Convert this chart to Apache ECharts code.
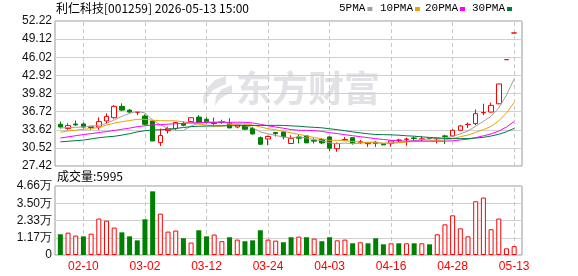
<!DOCTYPE html>
<html lang="zh-CN">
<head>
<meta charset="UTF-8">
<title>利仁科技 日K</title>
<script src="https://cdn.jsdelivr.net/npm/echarts@6/dist/echarts.min.js"></script>
<style>
  html, body { margin: 0; padding: 0; background: #fff; }
  #main { width: 578px; height: 276px; }
</style>
</head>
<body>
<div id="main"></div>
<script>
// 交易日
var dates = ['02-05','02-06','02-09','02-10','02-11','02-12','02-13','02-24','02-25','02-26',
             '02-27','03-02','03-03','03-04','03-05','03-06','03-09','03-10','03-11','03-12',
             '03-13','03-16','03-17','03-18','03-19','03-20','03-23','03-24','03-25','03-26',
             '03-27','03-30','03-31','04-01','04-02','04-03','04-07','04-08','04-09','04-10',
             '04-13','04-14','04-15','04-16','04-17','04-20','04-21','04-22','04-23','04-24',
             '04-27','04-28','04-29','04-30','05-06','05-07','05-08','05-11','05-12','05-13'];

// 开 收 低 高
var open = [34.56, 33.82, 34.60, 34.61, 34.22, 34.09, 35.12, 35.68, 37.62, 36.98,
            36.59, 35.96, 35.12, 31.43, 33.48, 33.82, 34.68, 35.01, 35.78, 35.41,
            34.85, 35.01, 34.78, 34.09, 34.39, 33.83, 32.27, 32.04, 33.16, 33.24,
            31.27, 32.37, 32.57, 31.84, 31.97, 32.39, 30.39, 31.87, 32.27, 31.48,
            31.23, 31.48, 31.23, 31.26, 31.77, 31.97, 32.22, 31.97, 32.17, 32.07,
            32.57, 32.56, 33.53, 34.50, 34.68, 36.52, 36.65, 38.06, 45.61, 50.17];
var close = [34.09, 34.33, 34.45, 34.09, 34.00, 35.01, 35.90, 37.62, 36.98, 36.64,
             36.64, 34.56, 31.70, 32.63, 33.82, 34.85, 34.39, 35.68, 34.89, 34.89,
             34.68, 34.85, 33.93, 34.44, 33.71, 32.91, 31.14, 32.47, 32.97, 32.39,
             32.11, 32.17, 31.37, 31.67, 31.37, 30.46, 31.26, 31.97, 31.26, 31.58,
             31.38, 31.26, 31.03, 31.70, 31.87, 32.02, 32.12, 32.07, 32.12, 32.17,
             32.47, 33.53, 34.27, 34.56, 36.37, 36.57, 37.79, 41.46, 45.61, 50.17];
var low = [33.82, 33.60, 34.30, 33.82, 33.60, 33.60, 34.68, 35.51, 36.81, 36.42,
           36.12, 34.35, 31.70, 30.85, 32.97, 33.60, 34.20, 34.94, 34.68, 34.68,
           34.45, 34.65, 33.93, 33.86, 33.60, 32.77, 31.03, 30.96, 32.47, 31.97,
           31.27, 31.27, 31.37, 31.27, 31.18, 30.00, 29.85, 31.70, 31.08, 31.18,
           30.69, 30.69, 31.03, 30.74, 31.48, 30.88, 31.68, 31.58, 31.97, 31.28,
           31.18, 32.43, 33.46, 33.93, 34.39, 36.13, 36.54, 38.00, 45.61, 50.17];
var high = [35.01, 34.73, 35.20, 34.85, 34.25, 35.75, 36.42, 37.84, 38.13, 37.16,
            36.66, 36.25, 35.23, 33.82, 34.15, 34.90, 35.04, 35.72, 36.12, 35.74,
            35.70, 35.34, 35.59, 34.45, 34.55, 34.15, 32.47, 32.63, 33.19, 33.36,
            32.67, 32.82, 32.62, 32.17, 32.17, 32.47, 31.43, 32.37, 32.27, 31.87,
            31.48, 31.68, 31.23, 31.87, 32.07, 32.27, 32.47, 32.57, 32.22, 32.27,
            32.77, 33.71, 34.45, 34.85, 37.10, 38.07, 38.25, 41.46, 45.61, 50.17];

// 均线
var ma5 = [33.95, 33.98, 34.05, 34.10, 34.19, 34.38, 34.69, 35.32, 35.90, 36.43,
           36.76, 36.49, 35.30, 34.43, 33.87, 33.51, 33.48, 34.27, 34.73, 34.94,
           34.91, 35.00, 34.65, 34.56, 34.32, 33.97, 33.23, 32.93, 32.64, 32.38,
           32.22, 32.42, 32.20, 31.94, 31.74, 31.41, 31.23, 31.35, 31.26, 31.31,
           31.49, 31.49, 31.30, 31.39, 31.45, 31.58, 31.75, 31.96, 32.04, 32.10,
           32.19, 32.47, 32.91, 33.40, 34.24, 35.06, 35.91, 37.35, 39.56, 42.32];
var ma10 = [33.20, 33.40, 33.55, 33.70, 33.80, 34.05, 34.40, 34.75, 35.00, 35.20,
            35.40, 35.40, 35.25, 35.17, 35.15, 35.13, 34.98, 34.79, 34.58, 34.41,
            34.21, 34.24, 34.46, 34.64, 34.63, 34.44, 34.11, 33.79, 33.60, 33.35,
            33.09, 32.82, 32.57, 32.29, 32.06, 31.81, 31.82, 31.77, 31.60, 31.52,
            31.45, 31.36, 31.32, 31.33, 31.38, 31.53, 31.62, 31.63, 31.72, 31.77,
            31.88, 32.11, 32.43, 32.72, 33.17, 33.63, 34.19, 35.13, 36.48, 38.28];
var ma20 = [32.20, 32.40, 32.60, 32.80, 32.95, 33.15, 33.30, 33.50, 33.70, 33.90,
            34.15, 34.30, 34.45, 34.50, 34.58, 34.65, 34.72, 34.80, 34.84, 34.86,
            34.89, 34.91, 34.89, 34.91, 34.89, 34.79, 34.55, 34.29, 34.09, 33.88,
            33.65, 33.53, 33.51, 33.47, 33.34, 33.12, 32.97, 32.78, 32.60, 32.44,
            32.27, 32.09, 31.95, 31.81, 31.72, 31.67, 31.72, 31.70, 31.66, 31.65,
            31.67, 31.73, 31.88, 32.02, 32.27, 32.58, 32.91, 33.38, 34.10, 35.03];
var ma30 = [31.55, 31.65, 31.75, 31.85, 32.05, 32.25, 32.40, 32.50, 32.70, 32.95,
            33.25, 33.45, 33.58, 33.62, 33.70, 33.85, 34.00, 34.15, 34.22, 34.25,
            34.28, 34.30, 34.30, 34.32, 34.33, 34.35, 34.36, 34.37, 34.37, 34.36,
            34.29, 34.22, 34.11, 34.03, 33.95, 33.79, 33.64, 33.45, 33.26, 33.09,
            32.92, 32.81, 32.78, 32.75, 32.69, 32.59, 32.52, 32.40, 32.31, 32.22,
            32.14, 32.10, 32.11, 32.11, 32.20, 32.32, 32.55, 32.84, 33.27, 33.86];

// 成交量(万手), 1 = 红, 0 = 绿
var vol = [1.40, 1.51, 1.31, 1.26, 1.44, 2.46, 2.32, 1.85, 1.53, 1.26,
           0.99, 2.41, 4.30, 2.79, 1.58, 1.65, 1.13, 0.84, 1.67, 1.26,
           1.38, 0.93, 1.20, 1.04, 0.93, 0.99, 1.67, 1.04, 0.97, 0.86,
           1.20, 1.24, 1.20, 1.11, 0.93, 1.20, 0.99, 1.04, 0.79, 0.86,
           0.79, 1.13, 0.72, 0.79, 0.79, 0.79, 0.79, 0.79, 0.72, 1.40,
           2.07, 2.68, 1.80, 1.26, 3.63, 3.88, 1.74, 2.46, 0.45, 0.5995];
var volUp = [0,1,1,0,1,1,1,1,0,0, 0,0,0,1,1,1,0,1,0,0,
             1,1,0,1,0,0,0,1,1,0, 0,1,0,1,0,0,1,1,0,1,
             0,0,0,1,0,1,0,1,0,1, 1,1,1,1,1,1,1,1,1,1];

// 刻度
var priceTicks = [27.42, 30.52, 33.62, 36.72, 39.82, 42.92, 46.02, 49.12, 52.22];
var volTicks = ['0', '1.17万', '2.33万', '3.50万', '4.66万'];
var volMax = 4.66;
var xTickDates = ['02-10', '03-02', '03-12', '03-24', '04-03', '04-16', '04-28', '05-13'];

var maNames = ['5PMA', '10PMA', '20PMA', '30PMA'];
var maColors = ['#a0a0a0', '#f0a000', '#ff00ff', '#007a3d'];
var maData = [ma5, ma10, ma20, ma30];

var RED = '#ff0000', GREEN = '#008000';

var chart = echarts.init(document.getElementById('main'));

var kData = dates.map(function (d, i) { return [open[i], close[i], low[i], high[i]]; });
var volData = vol.map(function (v, i) {
  return {
    value: v,
    itemStyle: volUp[i] ? { color: '#fff', borderColor: RED, borderWidth: 1 } : { color: GREEN, borderColor: GREEN, borderWidth: 0 }
  };
});
var vLines = xTickDates.map(function (d) { return { xAxis: d }; });
var vLineStyle = { color: '#c8c8c8', type: [4, 3], width: 1 };

// 图例、标题、水印
var WM = '#e2e2e6';
var graphic = [
  { type: 'text', x: 56, y: 2, style: { text: '利仁科技[001259] 2026-05-13 15:00', font: '12px "Noto Sans CJK SC"', fill: '#000' } },
  { type: 'text', x: 57, y: 170, style: { text: '成交量:' + Math.round(vol[vol.length - 1] * 10000), font: '12px "Noto Sans CJK SC"', fill: '#000' } },
  { type: 'text', x: 236, y: 70, z: -1, style: { text: '东方财富', fontSize: 36, fontWeight: 'bold', fontFamily: 'Noto Sans CJK SC', fill: WM } },
  { type: 'polygon', z: -1, shape: { points: [[226,76],[215,80],[207,88],[203,97],[204,106],[207,98],[213,90],[226,84]] }, style: { fill: WM } },
  { type: 'polygon', z: -1, shape: { points: [[232,85],[222,89],[216,96],[215,106],[219,100],[224,96],[232,93]] }, style: { fill: WM } }
];
var legendX = [339, 380, 425, 472];
maNames.forEach(function (n, i) {
  graphic.push({ type: 'text', x: legendX[i], y: 3, style: { text: n, font: '11px "Liberation Mono"', fill: '#000' } });
  graphic.push({ type: 'rect', shape: { x: legendX[i] + n.length * 6.6 + 2, y: 7, width: 5, height: 4 }, style: { fill: maColors[i] } });
});

var markLineOpt = { silent: true, z: 1, symbol: ['none', 'none'], label: { show: false }, lineStyle: vLineStyle, data: vLines };

var series = [
  { type: 'line', xAxisIndex: 1, yAxisIndex: 1, data: [], z: 1, silent: true, markLine: markLineOpt },
  { type: 'candlestick', xAxisIndex: 1, yAxisIndex: 1, data: kData, barWidth: 5, z: 3,
    itemStyle: { color: '#fff', color0: GREEN, borderColor: RED, borderColor0: GREEN, borderWidth: 1 } }
];
maNames.forEach(function (n, i) {
  series.push({ name: n, type: 'line', xAxisIndex: 1, yAxisIndex: 1, data: maData[i], showSymbol: false,
    lineStyle: { color: maColors[i], width: 1 }, z: 4 });
});
series.push(
  { type: 'line', xAxisIndex: 3, yAxisIndex: 3, data: [], z: 1, silent: true, markLine: markLineOpt },
  { type: 'bar', xAxisIndex: 3, yAxisIndex: 3, data: volData, barWidth: 5, z: 3 }
);

var axisFont = { fontFamily: 'Liberation Sans', fontSize: 12, color: '#111' };

chart.setOption({
  animation: false,
  backgroundColor: '#fff',
  graphic: graphic,
  grid: [
    { left: 55, right: 56, top: 21, height: 145, show: true, borderColor: '#999', borderWidth: 1 },
    { left: 56.5, right: 60, top: 21, height: 145 },
    { left: 55, right: 56, top: 186, height: 69, show: true, borderColor: '#999', borderWidth: 1 },
    { left: 56.5, right: 60, top: 186, height: 69 }
  ],
  xAxis: [
    { gridIndex: 0, type: 'value', min: 0, max: 1, show: false },
    { gridIndex: 1, type: 'category', data: dates, boundaryGap: true, show: false },
    { gridIndex: 2, type: 'value', min: 0, max: 1, show: false },
    { gridIndex: 3, type: 'category', data: dates, boundaryGap: true,
      axisLine: { show: false }, axisTick: { show: false }, splitLine: { show: false },
      axisLabel: { interval: function (i, v) { return xTickDates.indexOf(v) >= 0; },
                   color: RED, fontFamily: 'Liberation Sans', fontSize: 12, margin: 6 } }
  ],
  yAxis: [
    { gridIndex: 0, type: 'value', min: priceTicks[0], max: priceTicks[priceTicks.length - 1], interval: 3.1,
      axisLine: { show: false }, axisTick: { show: false },
      axisLabel: Object.assign({ margin: 3, formatter: function (v) { return v.toFixed(2); } }, axisFont),
      splitLine: { lineStyle: { color: '#d0d0d0', width: 1 } } },
    { gridIndex: 1, type: 'value', min: priceTicks[0], max: priceTicks[priceTicks.length - 1], show: false },
    { gridIndex: 2, type: 'value', min: 0, max: volMax, interval: volMax / 4,
      axisLine: { show: false }, axisTick: { show: false },
      axisLabel: Object.assign({ margin: 3, formatter: function (v, i) { return volTicks[i]; } }, axisFont),
      splitLine: { lineStyle: { color: '#d0d0d0', width: 1 } } },
    { gridIndex: 3, type: 'value', min: 0, max: volMax, show: false }
  ],
  series: series
});
</script>
</body>
</html>
